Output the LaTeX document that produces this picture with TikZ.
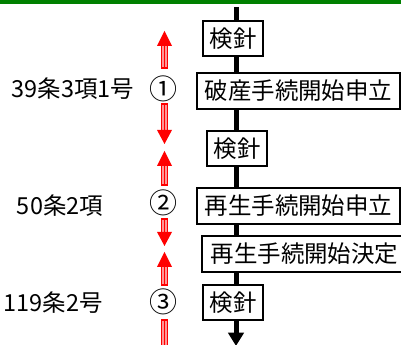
\documentclass[tikz,border=0pt]{standalone}
\usepackage{fontspec}
\setmainfont{Noto Sans CJK JP}
\usetikzlibrary{arrows.meta}
\definecolor{barGreen}{RGB}{0,128,0}
\definecolor{shaftPink}{RGB}{255,150,150}
\newcommand{\redhead}[3]{% x, tip y, base y
  \fill[red] (#1-7.5,#3) -- (#1,#2) -- (#1+7.5,#3) -- cycle;}
\newcommand{\redshaft}[3]{% x, y1, y2
  \draw[red, line width=0.9pt, fill=shaftPink] (#1-3,#2) rectangle (#1+3,#3);
  \draw[red, line width=0.6pt] (#1,#2) -- (#1,#3);}
\tikzset{
  box/.style={draw=black, fill=white, line width=0.8pt, inner sep=0pt,
    font=\fontsize{17.6}{20}\selectfont},
  lbl/.style={inner sep=0pt, font=\fontsize{17.6}{20}\selectfont},
  circ/.style={inner sep=0pt, font=\fontsize{21}{24}\selectfont},
}
\begin{document}
\begin{tikzpicture}[x=0.75pt, y=-0.75pt]
\useasboundingbox (0,0) rectangle (401,345);
\fill[barGreen] (0,0) rectangle (401,4.5);
% main timeline
\coordinate (top) at (236,7);
\coordinate (bot) at (236,346);
\draw[line width=3.75pt, -{Triangle[width=11.5pt,length=10pt]}] (top) -- (bot);
% boxes
\node[box, minimum width=45pt, minimum height=26.25pt] (b1) at (233,38.5) {検針};
\node[box, minimum width=152.25pt, minimum height=27pt] (b2) at (298.5,91) {破産手続開始申立};
\node[box, minimum width=45pt, minimum height=26.25pt] (b3) at (237,148.5) {検針};
\node[box, minimum width=152.25pt, minimum height=27pt] (b4) at (298.5,206) {再生手続開始申立};
\node[box, minimum width=153.75pt, minimum height=27pt] (b5) at (304.5,254) {再生手続開始決定};
\node[box, minimum width=45pt, minimum height=26.25pt] (b6) at (233,302.5) {検針};
% left labels
\node[lbl] (l1) at (73,89) {39条3項1号};
\node[lbl] (l2) at (60,206) {50条2項};
\node[lbl] (l3) at (53,303) {119条2号};
\node[circ] (c1) at (163.5,89) {①};
\node[circ] (c2) at (163.5,203) {②};
\node[circ] (c3) at (163.5,302) {③};
% red arrows
\redshaft{164.5}{45}{68}
\redhead{164.5}{31}{46}
\redshaft{164.5}{104}{131}
\redhead{164.5}{144}{130}
\redshaft{164.5}{165}{185}
\redhead{164.5}{151}{166}
\redshaft{164.5}{219}{233}
\redhead{164.5}{246}{232}
\redshaft{164.5}{266}{285}
\redhead{164.5}{252}{267}
\redshaft{164.5}{320}{346}
\end{tikzpicture}
\end{document}
